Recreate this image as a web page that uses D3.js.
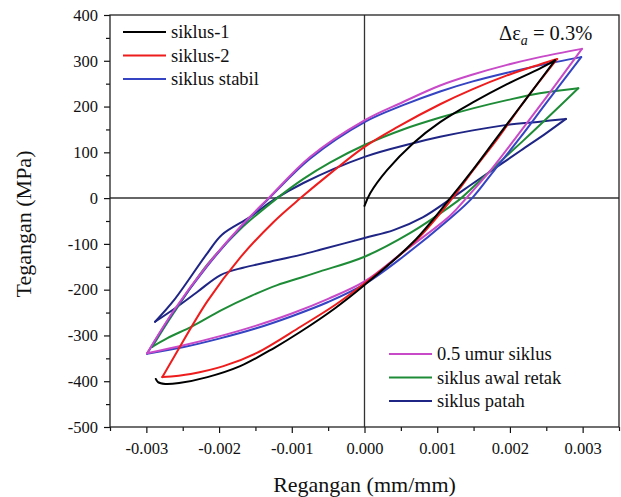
<!DOCTYPE html>
<html>
<head>
<meta charset="utf-8">
<script src="https://cdn.jsdelivr.net/npm/d3@7"></script>
<style>
  * { margin: 0; padding: 0; }
  body { background: #fff; overflow: hidden; }
  text { font-family: "Liberation Serif", "Times New Roman", "DejaVu Serif", serif; fill: #111; }
</style>
</head>
<body>
<svg id="chart" width="621" height="497"></svg>
<script>
// ticks
const xTicks = [-0.003, -0.002, -0.001, 0, 0.001, 0.002, 0.003]
const yTicks = [-500, -400, -300, -200, -100, 0, 100, 200, 300, 400]

// each loop: [strain, stress], loading branch then unloading branch
const siklus1Up = [[0, -17], [0.00008, 11], [0.00031, 61], [0.00067, 120], [0.00104, 166], [0.00149, 209], [0.00196, 249], [0.00241, 283], [0.00262, 301]]
const siklus1Down = [[0.00262, 301], [0.0022, 212], [0.00181, 130], [0.0015, 64], [0.00118, 0], [0.00067, -96], [0, -190], [-0.0004, -240], [-0.00088, -292], [-0.00125, -328], [-0.00171, -367], [-0.00216, -391], [-0.00255, -404], [-0.00274, -406], [-0.00284, -402], [-0.00287, -395]]

const siklus2Up = [[-0.00278, -391], [-0.00262, -347], [-0.00216, -225], [-0.00171, -130], [-0.00125, -52], [-0.00088, 0], [-0.00047, 54], [0, 112], [0.00045, 155], [0.00104, 205], [0.00149, 238], [0.00196, 268], [0.00241, 292], [0.00265, 304]]
const siklus2Down = [[0.00265, 304], [0.0022, 212], [0.00183, 130], [0.0015, 62], [0.00121, 0], [0.0007, -94], [0, -186], [-0.0004, -233], [-0.00088, -281], [-0.00148, -338], [-0.00194, -367], [-0.00239, -384], [-0.00278, -391]]

const stabilUp = [[-0.00299, -340], [-0.00262, -247], [-0.00216, -148], [-0.00171, -65], [-0.00131, 0], [-0.00075, 86], [0, 166], [0.00053, 203], [0.00104, 233], [0.00149, 255], [0.00196, 274], [0.00241, 290], [0.00298, 308]]
const stabilDown = [[0.00298, 308], [0.0025, 208], [0.00214, 132], [0.0018, 64], [0.00148, 0], [0.00118, -44], [0.00053, -128], [0, -188], [-0.0005, -227], [-0.001, -258], [-0.0015, -285], [-0.002, -307], [-0.0025, -326], [-0.00299, -340]]

const umurUp = [[-0.00299, -339], [-0.00262, -245], [-0.00216, -146], [-0.00171, -63], [-0.00132, 0], [-0.00075, 90], [0, 170], [0.00053, 210], [0.00104, 246], [0.00149, 270], [0.00196, 291], [0.00241, 308], [0.00299, 326]]
const umurDown = [[0.00299, 326], [0.0025, 220], [0.0021, 136], [0.00175, 64], [0.0014, 0], [0.00118, -38], [0.00053, -118], [0, -182], [-0.0005, -220], [-0.001, -252], [-0.0015, -279], [-0.002, -302], [-0.0025, -322], [-0.00299, -339]]

const retakUp = [[-0.00292, -325], [-0.00262, -250], [-0.00216, -145], [-0.00171, -68], [-0.0012, 0], [-0.00084, 42], [-0.00047, 78], [0, 116], [0.00053, 150], [0.00104, 176], [0.00149, 196], [0.00196, 214], [0.00241, 229], [0.00294, 240]]
const retakDown = [[0.00294, 240], [0.0026, 188], [0.00218, 125], [0.0017, 55], [0.00133, 0], [0.00118, -18], [0.00063, -76], [0, -128], [-0.00061, -160], [-0.00088, -174], [-0.0012, -190], [-0.00155, -213], [-0.00196, -244], [-0.00237, -280], [-0.00271, -306], [-0.00292, -325]]

const patahUp = [[-0.00288, -270], [-0.00262, -223], [-0.00216, -120], [-0.00196, -80], [-0.00157, -41], [-0.00125, -4], [-0.00084, 33], [0, 90], [0.00067, 120], [0.00104, 134], [0.00149, 148], [0.00196, 160], [0.00241, 167], [0.00277, 173]]
const patahDown = [[0.00277, 173], [0.0025, 142], [0.00215, 104], [0.00149, 32], [0.0012, 0], [0.0008, -42], [0.0004, -70], [0, -87], [-0.00061, -113], [-0.00088, -124], [-0.0013, -139], [-0.00167, -152], [-0.00198, -168], [-0.0023, -205], [-0.0026, -240], [-0.00288, -270]]

const series = [
    { name: 'siklus patah', color: '#1f2585', parts: [patahUp, patahDown] },
    { name: 'siklus awal retak', color: '#1e8c37', parts: [retakUp, retakDown] },
    { name: 'siklus stabil', color: '#3444c2', parts: [stabilUp, stabilDown] },
    { name: '0.5 umur siklus', color: '#c84ac8', parts: [umurUp, umurDown] },
    { name: 'siklus-2', color: '#ee1c1c', parts: [siklus2Up, siklus2Down] },
    { name: 'siklus-1', color: '#000000', parts: [siklus1Up, siklus1Down] }
]
const legendTop = ['siklus-1', 'siklus-2', 'siklus stabil']
const legendBottom = ['0.5 umur siklus', 'siklus awal retak', 'siklus patah']

const svg = d3.select('#chart')
const mLeft = 110, mRight = 619, mTop = 15, mBottom = 427

const x = d3.scaleLinear().domain([-0.0035, 0.0035]).range([mLeft, mRight])
const y = d3.scaleLinear().domain([-500, 400]).range([mBottom, mTop])

// minor ticks
const xMinor = d3.range(-0.0035, 0.00351, 0.001).map(d => +d.toFixed(4))
const yMinor = d3.range(-450, 400, 100)

svg.append('g')
    .attr('transform', `translate(0,${mBottom})`)
    .call(d3.axisBottom(x).tickValues(xMinor).tickSize(4).tickSizeOuter(0).tickFormat(''))
    .call(g => g.select('.domain').remove())
svg.append('g')
    .attr('transform', `translate(${mLeft},0)`)
    .call(d3.axisLeft(y).tickValues(yMinor).tickSize(4).tickSizeOuter(0).tickFormat(''))
    .call(g => g.select('.domain').remove())

const xAxis = svg.append('g')
    .attr('transform', `translate(0,${mBottom})`)
    .call(d3.axisBottom(x).tickValues(xTicks).tickSize(6).tickSizeOuter(0).tickPadding(9)
        .tickFormat(d => d.toFixed(3)))
xAxis.select('.domain').remove()
xAxis.selectAll('text').attr('font-size', 16.5)

const yAxis = svg.append('g')
    .attr('transform', `translate(${mLeft},0)`)
    .call(d3.axisLeft(y).tickValues(yTicks).tickSize(6).tickSizeOuter(0).tickPadding(6)
        .tickFormat(d => String(d)))
yAxis.select('.domain').remove()
yAxis.selectAll('text').attr('font-size', 16.5)

svg.selectAll('.tick line').attr('stroke', '#111').attr('stroke-width', 1.2)

// zero lines
svg.append('line')
    .attr('x1', mLeft).attr('x2', mRight).attr('y1', y(0)).attr('y2', y(0))
    .attr('stroke', '#666').attr('stroke-width', 2)
svg.append('line')
    .attr('x1', x(0)).attr('x2', x(0)).attr('y1', mTop).attr('y2', mBottom)
    .attr('stroke', '#333').attr('stroke-width', 1.3)

// frame
svg.append('rect')
    .attr('x', mLeft).attr('y', mTop).attr('width', mRight - mLeft).attr('height', mBottom - mTop)
    .attr('fill', 'none').attr('stroke', '#222').attr('stroke-width', 1.3)

// loops
const line = d3.line()
    .x(d => x(d[0]))
    .y(d => y(d[1]))
    .curve(d3.curveCatmullRom.alpha(0.5))

series.forEach(s => {
    s.parts.forEach(p => {
        svg.append('path')
            .attr('d', line(p))
            .attr('fill', 'none')
            .attr('stroke', s.color)
            .attr('stroke-width', 2)
            .attr('stroke-linejoin', 'round')
            .attr('stroke-linecap', 'round')
    })
})

// legends
function legend(names, x0, y0) {
    names.forEach((n, i) => {
        const s = series.find(d => d.name == n)
        const yy = y0 + i * 23.5
        svg.append('line')
            .attr('x1', x0).attr('x2', x0 + 43).attr('y1', yy).attr('y2', yy)
            .attr('stroke', s.color).attr('stroke-width', 2)
        svg.append('text')
            .attr('x', x0 + 48).attr('y', yy + 6)
            .attr('font-size', 18.5)
            .text(n)
    })
}
legend(legendTop, 123, 32)
legend(legendBottom, 389, 354)

// annotation
const ann = svg.append('text').attr('x', 499).attr('y', 40).attr('font-size', 20.5)
ann.append('tspan').text('\u0394\u03b5')
ann.append('tspan').attr('font-size', 14).attr('font-style', 'italic').attr('dy', 5).text('a')
ann.append('tspan').attr('dy', -5).text(' = 0.3%')

// axis titles
svg.append('text')
    .attr('x', x(0)).attr('y', 492)
    .attr('text-anchor', 'middle')
    .attr('font-size', 22)
    .text('Regangan (mm/mm)')
svg.append('text')
    .attr('transform', `translate(31,224) rotate(-90)`)
    .attr('text-anchor', 'middle')
    .attr('font-size', 22)
    .text('Tegangan (MPa)')
</script>
</body>
</html>
